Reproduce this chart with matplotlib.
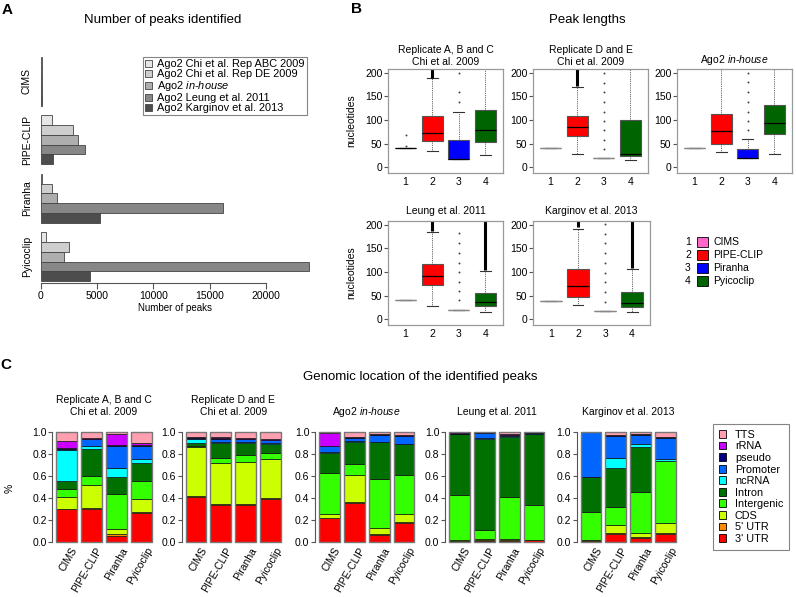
import numpy as np
import matplotlib.pyplot as plt
import matplotlib.transforms as mtransforms
from matplotlib.patches import Patch, Rectangle

plt.rcParams['font.family'] = ['Liberation Sans', 'DejaVu Sans']
plt.rcParams['mathtext.fontset'] = 'custom'
plt.rcParams['mathtext.rm'] = 'Liberation Sans'
plt.rcParams['mathtext.it'] = 'Liberation Sans:italic'

# ---------------- data ----------------
methods = ['CIMS', 'PIPE-CLIP', 'Piranha', 'Pyicoclip']
datasets = ['Ago2 Chi et al. Rep ABC 2009', 'Ago2 Chi et al. Rep DE 2009',
            'Ago2 $\\mathit{in}$-$\\mathit{house}$', 'Ago2 Leung et al. 2011',
            'Ago2 Karginov et al. 2013']
dataset_grays = ['#E6E6E6', '#CECECE', '#AEAEAE', '#878787', '#4D4D4D']

# number of peaks, rows = method, columns = dataset
peaks_cims = [90, 130, 140, 110, 120]
peaks_pipeclip = [980, 2900, 3300, 3900, 1050]
peaks_piranha = [150, 1030, 1420, 16150, 5240]
peaks_pyicoclip = [440, 2510, 2100, 23800, 4380]

# peak lengths: (whislo, q1, med, q3, whishi) for CIMS, PIPE-CLIP, Piranha, Pyicoclip
len_titles = [['Replicate A, B and C', 'Chi et al. 2009'],
              ['Replicate D and E', 'Chi et al. 2009'],
              ['Ago2 $\\mathit{in}$-$\\mathit{house}$'],
              ['Leung et al. 2011'],
              ['Karginov et al. 2013']]
len_abc = [(40, 40, 40, 41, 41), (34, 55, 72, 109, 189), (18, 18, 18, 58, 118), (26, 54, 78, 121, 240)]
len_de = [(40, 40, 40, 40, 40), (29, 66, 85, 108, 170), (20, 20, 20, 20, 20), (16, 23, 28, 100, 240)]
len_inhouse = [(40, 40, 40, 40, 40), (33, 50, 77, 113, 240), (19, 19, 19, 39, 60), (29, 70, 94, 132, 240)]
len_leung = [(40, 40, 40, 40, 40), (28, 72, 92, 118, 184), (20, 20, 20, 20, 20), (16, 28, 37, 56, 102)]
len_karginov = [(39, 39, 39, 39, 39), (30, 48, 70, 107, 192), (18, 18, 18, 18, 18), (16, 27, 35, 58, 107)]
# single outliers
out_abc = [[45, 68], [], [139, 160, 199], []]
out_de = [[], [], [38, 58, 78, 98, 118, 139, 160, 179, 199], []]
out_inhouse = [[], [], [78, 98, 118, 139, 160, 180, 200], []]
out_leung = [[], [], [40, 59, 80, 100, 120, 141, 162, 182], []]
out_karginov = [[], [], [37, 58, 78, 99, 120, 141, 162, 181, 202], []]
# dense outlier runs (lo, hi) that look like a solid line
dense_abc = [None, (190, 230), None, None]
dense_de = [None, (172, 230), None, None]
dense_inhouse = [None, None, None, None]
dense_leung = [None, (186, 230), None, (104, 230)]
dense_karginov = [None, (195, 230), None, (109, 230)]
method_colors = ['#FF66CC', '#FF0000', '#0000FF', '#006400']

# genomic location fractions, bottom to top
loc_names = ["3' UTR", "5' UTR", 'CDS', 'Intergenic', 'Intron', 'ncRNA',
             'Promoter', 'pseudo', 'rRNA', 'TTS']
loc_colors = ['#FF0000', '#FF8C00', '#CCFF00', '#33FF00', '#007000', '#00FFFF',
              '#0066FF', '#000080', '#CC00FF', '#FF9FB0']
loc_abc = [[0.295, 0.005, 0.105, 0.07, 0.08, 0.275, 0.015, 0.007, 0.066, 0.082],
           [0.30, 0.01, 0.21, 0.08, 0.242, 0.025, 0.063, 0.007, 0.008, 0.055],
           [0.055, 0.015, 0.042, 0.318, 0.155, 0.082, 0.203, 0.005, 0.10, 0.025],
           [0.265, 0.008, 0.115, 0.16, 0.17, 0.032, 0.12, 0.005, 0.019, 0.106]]
loc_de = [[0.405, 0.012, 0.443, 0.01, 0.03, 0.035, 0.01, 0.003, 0.007, 0.045],
          [0.335, 0.012, 0.373, 0.04, 0.14, 0.01, 0.025, 0.01, 0.005, 0.05],
          [0.335, 0.012, 0.38, 0.063, 0.104, 0.016, 0.02, 0.005, 0.01, 0.055],
          [0.385, 0.01, 0.353, 0.055, 0.085, 0.005, 0.03, 0.005, 0.002, 0.07]]
loc_inhouse = [[0.212, 0.008, 0.03, 0.377, 0.182, 0.008, 0.052, 0.005, 0.118, 0.008],
               [0.35, 0.01, 0.246, 0.10, 0.203, 0.005, 0.031, 0.005, 0.0, 0.05],
               [0.065, 0.005, 0.051, 0.446, 0.336, 0.003, 0.065, 0.004, 0.005, 0.02],
               [0.172, 0.008, 0.068, 0.358, 0.279, 0.003, 0.077, 0.003, 0.0, 0.032]]
loc_leung = [[0.003, 0.003, 0.014, 0.404, 0.552, 0.002, 0.005, 0.002, 0.01, 0.005],
             [0.01, 0.008, 0.007, 0.081, 0.824, 0.01, 0.05, 0.005, 0.0, 0.005],
             [0.01, 0.005, 0.01, 0.384, 0.546, 0.003, 0.01, 0.005, 0.007, 0.02],
             [0.012, 0.003, 0.005, 0.313, 0.643, 0.002, 0.012, 0.004, 0.0, 0.006]]
loc_karginov = [[0.005, 0.01, 0.003, 0.255, 0.317, 0.0, 0.405, 0.005, 0.0, 0.0],
                [0.07, 0.012, 0.066, 0.17, 0.355, 0.091, 0.2, 0.003, 0.0, 0.033],
                [0.033, 0.007, 0.042, 0.373, 0.403, 0.027, 0.088, 0.003, 0.0, 0.024],
                [0.07, 0.01, 0.087, 0.563, 0.005, 0.02, 0.192, 0.003, 0.0, 0.05]]

# ---------------- figure ----------------
W, H = 796, 597
fig = plt.figure(figsize=(W / 100, H / 100), dpi=100)


def add_ax(l, t, r, b):
    return fig.add_axes([l / W, 1 - b / H, (r - l) / W, (b - t) / H])


def ftext(x, y, s, **kw):
    fig.text(x / W, 1 - y / H, s, **kw)


FS = 7.5
ftext(7, 10, 'A', fontsize=11, fontweight='bold', va='center', ha='center')
ftext(357, 9, 'B', fontsize=11, fontweight='bold', va='center', ha='center')
ftext(6, 365, 'C', fontsize=11, fontweight='bold', va='center', ha='center')

# ---------- A: number of peaks ----------
axA = add_ax(30, 37.5, 319.4, 283)
peaks = [peaks_cims, peaks_pipeclip, peaks_piranha, peaks_pyicoclip]
for g, vals in enumerate(peaks):
    for d, v in enumerate(vals):
        axA.barh(g * 6 + 1 + d + 0.5, v, height=1, color=dataset_grays[d],
                 edgecolor='#444444', linewidth=0.6)
axA.set_xlim(-950, 24750)
axA.set_ylim(24.2, -1)
for s in ['top', 'right', 'left']:
    axA.spines[s].set_visible(False)
axA.spines['bottom'].set_bounds(0, 20000)
axA.spines['bottom'].set_color('#555555')
axA.set_xticks([0, 5000, 10000, 15000, 20000])
axA.tick_params(axis='x', length=4, pad=2, labelsize=FS, color='#555555')
axA.set_yticks([])
trA = mtransforms.blended_transform_factory(axA.transAxes, axA.transData)
for g, m in enumerate(methods):
    axA.text(-3 / 289.4, g * 6 + 3.5, m, rotation=90, ha='center', va='center',
             fontsize=FS, transform=trA)
ftext(175, 308, 'Number of peaks', fontsize=FS - 0.5, ha='center', va='center')
ftext(163, 20, 'Number of peaks identified', fontsize=9.5, ha='center', va='center')
legA = fig.legend(handles=[Patch(facecolor=c, edgecolor='#444444', lw=0.6) for c in dataset_grays],
                  labels=datasets, loc='upper left', bbox_to_anchor=(143 / W, 1 - 57 / H),
                  fontsize=7.9, frameon=True, fancybox=False, edgecolor='#666666',
                  handlelength=0.6, handleheight=0.6, handletextpad=0.5,
                  labelspacing=0.0, borderpad=0.2, borderaxespad=0)
legA.get_frame().set_linewidth(0.8)

# ---------- B: peak lengths ----------
ftext(587, 20, 'Peak lengths', fontsize=9.5, ha='center', va='center')
box_pos = [(388, 69, 503, 173), (533, 69, 648, 173), (677, 69, 792, 173),
           (388, 221, 503, 325), (533, 221, 650, 325)]
len_all = [len_abc, len_de, len_inhouse, len_leung, len_karginov]
out_all = [out_abc, out_de, out_inhouse, out_leung, out_karginov]
dense_all = [dense_abc, dense_de, dense_inhouse, dense_leung, dense_karginov]
for i in range(5):
    l, t, r, b = box_pos[i]
    ax = add_ax(l, t, r, b)
    stats = []
    for j in range(4):
        lo, q1, med, q3, hi = len_all[i][j]
        stats.append(dict(whislo=lo, q1=q1, med=med, q3=q3, whishi=hi,
                          fliers=out_all[i][j]))
    art = ax.bxp(stats, positions=[1, 2, 3, 4], widths=0.8, patch_artist=True,
                 capwidths=0.4,
                 boxprops=dict(edgecolor='#555555', linewidth=0.8),
                 whiskerprops=dict(linestyle=(0, (1, 1.2)), color='#333333', linewidth=0.6),
                 capprops=dict(color='#333333', linewidth=0.8),
                 medianprops=dict(color='black', linewidth=0.9),
                 flierprops=dict(marker='o', markersize=1.4, markerfacecolor='#444444',
                                 markeredgecolor='none'))
    for j, patch in enumerate(art['boxes']):
        patch.set_facecolor(method_colors[j])
        lo, q1, med, q3, hi = len_all[i][j]
        if q1 == q3:
            art['medians'][j].set_color('#888888')
            art['medians'][j].set_linewidth(1.0)
    for j in range(4):
        if dense_all[i][j] is not None:
            ax.vlines(j + 1, dense_all[i][j][0], dense_all[i][j][1], color='black', lw=2.2)
    ax.set_xlim(0.34, 4.66)
    ax.set_ylim(-12, 208)
    ax.set_yticks([0, 50, 100, 150, 200])
    ax.set_xticks([1, 2, 3, 4])
    ax.set_xticklabels(['1', '2', '3', '4'])
    ax.tick_params(axis='x', length=0, pad=3, labelsize=FS)
    ax.tick_params(axis='y', length=3, pad=1, labelsize=FS, color='#555555')
    for s in ax.spines.values():
        s.set_color('#999999')
        s.set_linewidth(0.9)
    lines = len_titles[i]
    ylast = 61.7 if t < 100 else 211
    if len(lines) == 1:
        ylast = 60 if t < 100 else 211
    cx = (l + r) / 2
    for k, line in enumerate(reversed(lines)):
        ftext(cx, ylast - 11.7 * k, line, fontsize=FS, ha='center', va='center')
    if l < 400:
        ftext(351, (t + b) / 2, 'nucleotides', fontsize=FS, rotation=90,
              ha='center', va='center')

# legend for B
rows_y = [241.7, 255, 268, 281]
for j, m in enumerate(methods):
    y = rows_y[j]
    ftext(688, y, str(j + 1), fontsize=FS, ha='center', va='center')
    fig.add_artist(Rectangle((697 / W, 1 - (y + 5) / H), 11 / W, 10 / H,
                             transform=fig.transFigure, facecolor=method_colors[j],
                             edgecolor='black', linewidth=0.6))
    ftext(713, y, m, fontsize=FS, ha='left', va='center')

# ---------- C: genomic location ----------
ftext(420, 377, 'Genomic location of the identified peaks', fontsize=9.5,
      ha='center', va='center')
ftext(10, 488, '%', fontsize=FS, ha='center', va='center', rotation=90)
loc_all = [loc_abc, loc_de, loc_inhouse, loc_leung, loc_karginov]
c_left = [52.3, 181.7, 315, 445, 576.7]
bar_x = [0.7, 1.9, 3.1, 4.3]
for i in range(5):
    ax = add_ax(c_left[i], 427.3, c_left[i] + 103.3, 546.1)
    mat = np.array(loc_all[i])
    bottom = np.zeros(4)
    for k in range(len(loc_names)):
        ax.bar(bar_x, mat[:, k], width=1.0, bottom=bottom, color=loc_colors[k],
               edgecolor='#111111', linewidth=0.5)
        bottom += mat[:, k]
    ax.bar(bar_x, mat.sum(axis=1), width=1.0, fill=False, edgecolor='#777777',
           linewidth=1.0)
    ax.set_xlim(0.016, 4.984)
    ax.set_ylim(-0.04, 1.04)
    for s in ['top', 'right', 'bottom']:
        ax.spines[s].set_visible(False)
    ax.spines['left'].set_bounds(0, 1)
    ax.spines['left'].set_color('#555555')
    ax.set_yticks([0, 0.2, 0.4, 0.6, 0.8, 1.0])
    ax.set_yticklabels(['0.0', '0.2', '0.4', '0.6', '0.8', '1.0'])
    ax.tick_params(axis='y', length=3, pad=1, labelsize=FS, color='#555555')
    ax.set_xticks([])
    for j, m in enumerate(methods):
        ax.annotate(m, xy=(bar_x[j], 0), xytext=(3, -3), textcoords='offset points',
                    rotation=60, ha='right', va='top', rotation_mode='anchor',
                    fontsize=FS, annotation_clip=False)
    lines = len_titles[i]
    cx = c_left[i] + 103.3 / 2
    for k, line in enumerate(reversed(lines)):
        ftext(cx, 411.7 - 11.7 * k, line, fontsize=FS, ha='center', va='center')

legC = fig.legend(handles=[Patch(facecolor=c, edgecolor='black', lw=0.6) for c in loc_colors[::-1]],
                  labels=loc_names[::-1], loc='upper left',
                  bbox_to_anchor=(712.7 / W, 1 - 424 / H),
                  fontsize=7.8, frameon=True, fancybox=False, edgecolor='#666666',
                  handlelength=0.7, handleheight=0.7, handletextpad=0.8,
                  labelspacing=0.14, borderpad=0.55, borderaxespad=0)
legC.get_frame().set_linewidth(0.8)

fig.savefig('out.png', dpi=100)
